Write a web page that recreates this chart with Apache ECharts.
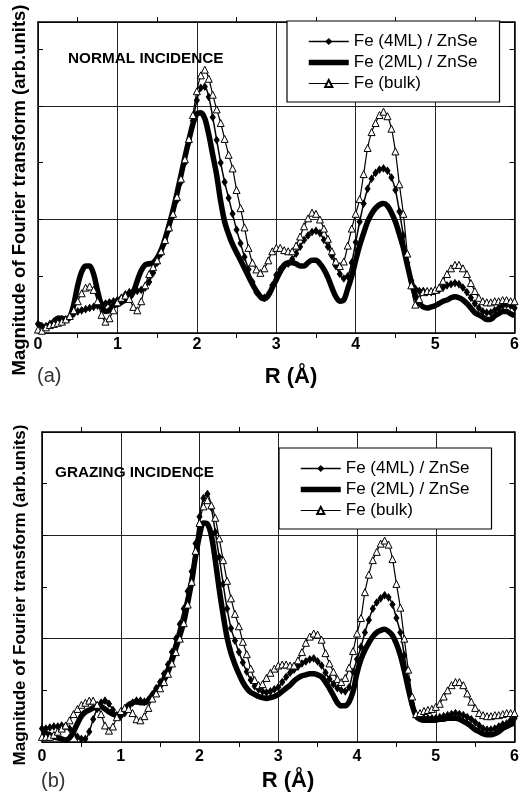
<!DOCTYPE html>
<html><head><meta charset="utf-8">
<script src="https://cdn.jsdelivr.net/npm/echarts@6/dist/echarts.min.js"></script>
<style>html,body{margin:0;padding:0;background:#fff}#c{width:522px;height:798px}</style>
</head><body><div id="c"></div>
<script>
// R grid (Å)
const R = [0,0.05,0.1,0.15,0.2,0.25,0.3,0.35,0.4,0.45,0.5,0.55,0.6,0.65,0.7,0.75,0.8,0.85,0.9,0.95,
1,1.05,1.1,1.15,1.2,1.25,1.3,1.35,1.4,1.45,1.5,1.55,1.6,1.65,1.7,1.75,1.8,1.85,1.9,1.95,
2,2.05,2.1,2.15,2.2,2.25,2.3,2.35,2.4,2.45,2.5,2.55,2.6,2.65,2.7,2.75,2.8,2.85,2.9,2.95,
3,3.05,3.1,3.15,3.2,3.25,3.3,3.35,3.4,3.45,3.5,3.55,3.6,3.65,3.7,3.75,3.8,3.85,3.9,3.95,
4,4.05,4.1,4.15,4.2,4.25,4.3,4.35,4.4,4.45,4.5,4.55,4.6,4.65,4.7,4.75,4.8,4.85,4.9,4.95,
5,5.05,5.1,5.15,5.2,5.25,5.3,5.35,5.4,5.45,5.5,5.55,5.6,5.65,5.7,5.75,5.8,5.85,5.9,5.95,6];

// (a) NORMAL INCIDENCE
const aML4 = [0.08,0.06,0.06,0.08,0.10,0.12,0.12,0.12,0.14,0.17,
0.19,0.20,0.21,0.22,0.23,0.24,0.26,0.26,0.27,0.28,
0.29,0.31,0.34,0.36,0.37,0.37,0.38,0.40,0.45,0.53,
0.62,0.70,0.80,0.91,1.03,1.17,1.33,1.50,1.68,1.87,
2.05,2.16,2.17,2.08,1.90,1.70,1.50,1.33,1.19,1.05,
0.91,0.79,0.67,0.56,0.45,0.36,0.32,0.31,0.34,0.42,
0.51,0.56,0.59,0.61,0.65,0.70,0.76,0.82,0.86,0.89,
0.90,0.88,0.82,0.76,0.68,0.59,0.52,0.48,0.50,0.62,
0.80,0.98,1.14,1.27,1.36,1.41,1.44,1.45,1.43,1.37,
1.26,1.07,0.86,0.62,0.46,0.39,0.37,0.37,0.36,0.36,
0.37,0.38,0.40,0.42,0.43,0.44,0.43,0.40,0.36,0.31,
0.26,0.22,0.19,0.18,0.18,0.20,0.22,0.24,0.25,0.24,
0.22];
const aML2 = [0.08,0.06,0.05,0.07,0.10,0.13,0.13,0.12,0.14,0.25,
0.42,0.54,0.59,0.59,0.52,0.37,0.24,0.19,0.20,0.24,
0.25,0.27,0.29,0.31,0.36,0.46,0.55,0.60,0.61,0.62,
0.66,0.73,0.83,0.95,1.08,1.23,1.39,1.55,1.70,1.84,
1.93,1.94,1.89,1.75,1.57,1.39,1.16,0.98,0.87,0.78,
0.71,0.64,0.57,0.50,0.43,0.37,0.32,0.30,0.33,0.40,
0.47,0.54,0.60,0.62,0.62,0.61,0.59,0.59,0.62,0.64,
0.64,0.61,0.56,0.49,0.40,0.32,0.28,0.29,0.39,0.50,
0.64,0.77,0.88,0.98,1.05,1.10,1.13,1.14,1.12,1.06,
0.98,0.87,0.75,0.60,0.45,0.33,0.26,0.23,0.22,0.23,
0.24,0.26,0.28,0.29,0.31,0.32,0.31,0.29,0.26,0.22,
0.18,0.16,0.14,0.12,0.12,0.15,0.17,0.19,0.19,0.17,
0.15];
const aBulk = [0.03,0.02,0.05,0.07,0.08,0.09,0.10,0.12,0.15,0.20,
0.28,0.35,0.40,0.41,0.38,0.28,0.16,0.10,0.13,0.20,
0.27,0.31,0.33,0.30,0.23,0.20,0.28,0.42,0.52,0.58,
0.64,0.72,0.82,0.93,1.05,1.20,1.36,1.53,1.71,1.92,
2.13,2.27,2.32,2.24,2.10,1.97,1.85,1.71,1.57,1.45,
1.26,1.10,0.93,0.75,0.62,0.56,0.53,0.57,0.64,0.72,
0.75,0.75,0.73,0.72,0.72,0.77,0.85,0.94,1.01,1.06,
1.05,1.00,0.92,0.83,0.72,0.63,0.59,0.63,0.77,0.92,
1.05,1.18,1.40,1.63,1.77,1.85,1.92,1.95,1.91,1.80,
1.60,1.31,1.05,0.70,0.42,0.25,0.30,0.36,0.37,0.37,
0.38,0.40,0.46,0.52,0.57,0.60,0.60,0.57,0.52,0.44,
0.37,0.31,0.28,0.27,0.27,0.28,0.28,0.29,0.29,0.28,
0.28];

// (b) GRAZING INCIDENCE
const bML4 = [0.13,0.13,0.14,0.15,0.15,0.16,0.15,0.13,0.09,0.05,
0.03,0.03,0.10,0.22,0.32,0.38,0.40,0.37,0.31,0.26,
0.25,0.28,0.34,0.38,0.40,0.40,0.39,0.41,0.46,0.52,
0.58,0.66,0.75,0.87,1.00,1.14,1.29,1.46,1.65,1.92,
2.18,2.36,2.40,2.27,2.03,1.79,1.53,1.29,1.10,0.98,
0.87,0.77,0.68,0.60,0.54,0.51,0.49,0.48,0.49,0.51,
0.53,0.58,0.63,0.67,0.70,0.73,0.76,0.78,0.80,0.81,
0.78,0.74,0.67,0.61,0.56,0.52,0.50,0.49,0.53,0.68,
0.80,0.92,1.06,1.18,1.29,1.35,1.39,1.42,1.40,1.33,
1.20,1.06,0.84,0.60,0.37,0.26,0.24,0.23,0.23,0.23,
0.23,0.24,0.25,0.26,0.27,0.28,0.27,0.26,0.24,0.22,
0.19,0.16,0.13,0.12,0.12,0.13,0.15,0.17,0.18,0.21,
0.23];
const bML2 = [0.09,0.08,0.07,0.05,0.04,0.03,0.02,0.04,0.10,0.18,
0.25,0.29,0.31,0.33,0.34,0.34,0.32,0.29,0.27,0.26,
0.27,0.31,0.36,0.38,0.39,0.38,0.38,0.40,0.45,0.50,
0.54,0.60,0.68,0.79,0.91,1.03,1.16,1.35,1.55,1.80,
2.00,2.12,2.11,2.00,1.76,1.48,1.23,1.01,0.86,0.75,
0.66,0.58,0.52,0.48,0.46,0.44,0.43,0.42,0.43,0.44,
0.46,0.49,0.52,0.55,0.59,0.62,0.64,0.65,0.66,0.66,
0.65,0.63,0.58,0.52,0.45,0.38,0.35,0.35,0.39,0.49,
0.67,0.80,0.89,0.96,1.02,1.06,1.08,1.09,1.07,1.03,
0.95,0.84,0.69,0.52,0.36,0.25,0.22,0.21,0.21,0.21,
0.21,0.22,0.22,0.23,0.23,0.23,0.22,0.20,0.18,0.15,
0.12,0.10,0.08,0.07,0.07,0.08,0.10,0.13,0.15,0.17,
0.18];
const bBulk = [0.05,0.05,0.05,0.07,0.10,0.13,0.16,0.21,0.27,0.32,
0.36,0.38,0.40,0.40,0.36,0.27,0.16,0.11,0.15,0.24,
0.30,0.33,0.32,0.28,0.22,0.21,0.25,0.33,0.42,0.47,
0.52,0.58,0.66,0.76,0.87,1.00,1.15,1.33,1.55,1.85,
2.12,2.28,2.34,2.29,2.17,1.97,1.76,1.56,1.39,1.24,
1.12,0.97,0.85,0.71,0.60,0.55,0.56,0.62,0.67,0.71,
0.74,0.75,0.75,0.74,0.74,0.79,0.87,0.96,1.02,1.05,
1.04,0.99,0.86,0.76,0.68,0.61,0.58,0.62,0.72,0.88,
1.05,1.20,1.45,1.62,1.76,1.84,1.92,1.95,1.91,1.77,
1.53,1.30,1.00,0.70,0.44,0.27,0.28,0.30,0.31,0.32,
0.34,0.37,0.44,0.50,0.55,0.58,0.58,0.55,0.47,0.39,
0.33,0.28,0.26,0.25,0.25,0.26,0.26,0.27,0.28,0.28,
0.28];

const names = ['Fe (4ML) / ZnSe', 'Fe (2ML) / ZnSe', 'Fe (bulk)'];
const panelTitles = ['NORMAL INCIDENCE', 'GRAZING INCIDENCE'];
const panelTags = ['(a)', '(b)'];
const xTitle = 'R (Å)';
const yTitle = 'Magnitude of Fourier transform (arb.units)';
const yMax = [2.74, 3];

const FONT = '"Liberation Sans", Arial, Helvetica, sans-serif';
const INK = '#000';

const grids = [
  {left: 38, top: 22, width: 482, height: 311},
  {left: 42, top: 432, width: 478, height: 310}
];
const labelMargin = [4, 7];

const xAxis = [], yAxis = [];
[0, 1].forEach(g => {
  xAxis.push({
    type: 'value', gridIndex: g, min: 0, max: 6, interval: 1, position: 'bottom',
    axisLine: {show: true, onZero: false, lineStyle: {color: INK, width: 1.5}},
    axisTick: {show: false},
    minorTick: {show: true, splitNumber: 2, length: 5, lineStyle: {color: INK, width: 1}},
    splitLine: {show: true, lineStyle: {color: '#222', width: 1}},
    axisLabel: {show: true, margin: labelMargin[g], color: INK, fontSize: 16, fontWeight: 'bold', fontFamily: FONT}
  });
  xAxis.push({
    type: 'value', gridIndex: g, min: 0, max: 6, interval: 1, position: 'top',
    axisLine: {show: true, onZero: false, lineStyle: {color: INK, width: 1.5}},
    axisTick: {show: false},
    minorTick: {show: true, splitNumber: 2, length: 5, lineStyle: {color: INK, width: 1}},
    splitLine: {show: false}, axisLabel: {show: false}
  });
  yAxis.push({
    type: 'value', gridIndex: g, min: 0, max: yMax[g], interval: 0.5, position: 'left',
    axisLine: {show: true, onZero: false, lineStyle: {color: INK, width: 1.5}},
    axisTick: {show: true, inside: true, length: 5, lineStyle: {color: INK, width: 1}},
    splitLine: {show: true, lineStyle: {color: ['#222', 'rgba(0,0,0,0)'], width: 1}},
    axisLabel: {show: false}
  });
  yAxis.push({
    type: 'value', gridIndex: g, min: 0, max: yMax[g], interval: 0.5, position: 'right',
    axisLine: {show: true, onZero: false, lineStyle: {color: INK, width: 1.5}},
    axisTick: {show: true, inside: true, length: 5, lineStyle: {color: INK, width: 1}},
    splitLine: {show: false}, axisLabel: {show: false}
  });
});

const panelData = [[aML4, aML2, aBulk], [bML4, bML2, bBulk]];
const series = [];
panelData.forEach((sets, g) => {
  const xi = g * 2, yi = g * 2;
  const pts = arr => R.map((r, i) => [r, arr[i]]);
  series.push({
    name: names[1], type: 'line', xAxisIndex: xi, yAxisIndex: yi, z: 2,
    data: pts(sets[1]), smooth: 0.3, showSymbol: false, symbol: 'none',
    lineStyle: {color: INK, width: 5.5}, itemStyle: {color: INK}
  });
  series.push({
    name: names[0], type: 'line', xAxisIndex: xi, yAxisIndex: yi, z: 3,
    data: pts(sets[0]), smooth: 0.3, symbol: 'diamond', symbolSize: [5, 7],
    lineStyle: {color: INK, width: 1.5}, itemStyle: {color: INK, borderColor: INK}
  });
  series.push({
    name: names[2], type: 'line', xAxisIndex: xi, yAxisIndex: yi, z: 4,
    data: pts(sets[2]), smooth: 0.3, symbol: 'triangle', symbolSize: 7,
    lineStyle: {color: INK, width: 1.2}, itemStyle: {color: '#fff', borderColor: INK, borderWidth: 1}
  });
});

const legendPos = [{left: 287, top: 21}, {left: 279, top: 448}];
const legend = legendPos.map(p => ({
  left: p.left, top: p.top, orient: 'vertical',
  padding: [12, 22, 10, 21], itemWidth: 40, itemHeight: 9, itemGap: 4,
  borderColor: INK, borderWidth: 1.2, backgroundColor: '#fff',
  selectedMode: false,
  textStyle: {fontSize: 17, color: INK, fontFamily: FONT},
  data: [
    {name: names[0], lineStyle: {width: 1.5}},
    {name: names[1], icon: 'path://M0,0 L40,0 L40,5.5 L0,5.5 Z', itemStyle: {color: INK, borderWidth: 0}},
    {name: names[2], lineStyle: {width: 1.2}}
  ]
}));

const graphic = [
  {type: 'text', x: 68, y: 59, z: 10, style: {text: panelTitles[0], fontSize: 15.3, fontWeight: 'bold', fontFamily: FONT, fill: INK, verticalAlign: 'middle'}},
  {type: 'text', x: 55, y: 473, z: 10, style: {text: panelTitles[1], fontSize: 15.3, fontWeight: 'bold', fontFamily: FONT, fill: INK, verticalAlign: 'middle'}},
  {type: 'text', x: 20, y: 190, rotation: Math.PI / 2, style: {text: yTitle, fontSize: 18.5, fontWeight: 'bold', fontFamily: FONT, fill: INK, align: 'center', verticalAlign: 'middle'}},
  {type: 'text', x: 20, y: 595, rotation: Math.PI / 2, style: {text: yTitle, fontSize: 17, fontWeight: 'bold', fontFamily: FONT, fill: INK, align: 'center', verticalAlign: 'middle'}},
  {type: 'text', x: 291, y: 377, style: {text: xTitle, fontSize: 22, fontWeight: 'bold', fontFamily: FONT, fill: INK, align: 'center', verticalAlign: 'middle'}},
  {type: 'text', x: 288, y: 781, style: {text: xTitle, fontSize: 22, fontWeight: 'bold', fontFamily: FONT, fill: INK, align: 'center', verticalAlign: 'middle'}},
  {type: 'text', x: 37, y: 376, style: {text: panelTags[0], fontSize: 20, fontFamily: FONT, fill: '#333', verticalAlign: 'middle'}},
  {type: 'text', x: 41, y: 781, style: {text: panelTags[1], fontSize: 20, fontFamily: FONT, fill: '#333', verticalAlign: 'middle'}}
];

const chart = echarts.init(document.getElementById('c'), null, {renderer: 'canvas'});
chart.setOption({
  animation: false,
  backgroundColor: '#fff',
  grid: grids,
  xAxis, yAxis, series, legend, graphic
});
</script>
</body></html>
